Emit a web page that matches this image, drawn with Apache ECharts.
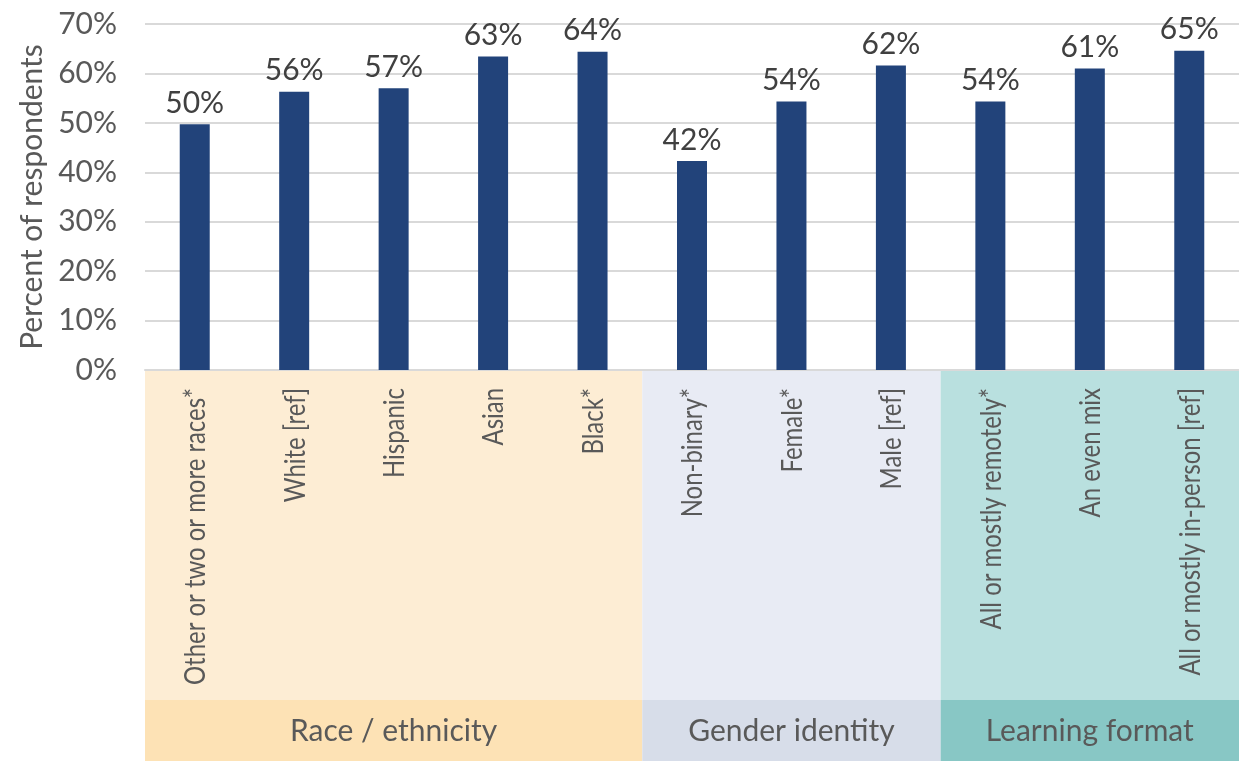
<!DOCTYPE html>
<html>
<head>
<meta charset="utf-8">
<script src="https://cdn.jsdelivr.net/npm/echarts@6/dist/echarts.min.js"></script>
<style>html,body{margin:0;padding:0;background:#fff}#c{width:1239px;height:761px}</style>
</head>
<body>
<div id="c"></div>
<script>
const categories = ['Other or two or more races*', 'White [ref]', 'Hispanic', 'Asian', 'Black*',
  'Non-binary*', 'Female*', 'Male [ref]',
  'All or mostly remotely*', 'An even mix', 'All or mostly in-person [ref]'];
const values = [49.7, 56.3, 57.0, 63.4, 64.4, 42.3, 54.3, 61.6, 54.3, 61.0, 64.6];
const groupNames = ['Race / ethnicity', 'Gender identity', 'Learning format'];
const groupStart = [0, 5, 8];
const groupEnd = [4, 7, 10];
const groupLight = ['#FDEDD4', '#E8EBF4', '#B9E0DF'];
const groupDark = ['#FDE2B5', '#D7DDE9', '#88C7C5'];
const yTicks = [0, 10, 20, 30, 40, 50, 60, 70];

// condensed look for category labels: horizontally squeeze Lato
const CAT_FONT = '29px Lato';
const mctx = document.createElement('canvas').getContext('2d');
mctx.font = CAT_FONT;
const catScale = 297 / mctx.measureText(categories[0]).width;

const chart = echarts.init(document.getElementById('c'));
chart.setOption({
  animation: false,
  grid: {left: 145, right: -6, top: 24, bottom: 391},
  xAxis: {
    type: 'category', data: categories,
    axisLine: {lineStyle: {color: '#D9D9D9', width: 2}},
    axisTick: {show: false},
    axisLabel: {show: false}
  },
  yAxis: {
    type: 'value', min: yTicks[0], max: yTicks[yTicks.length - 1], interval: 10,
    name: 'Percent of respondents', nameLocation: 'middle', nameGap: 98,
    nameTextStyle: {color: '#595959', fontFamily: 'Lato', fontSize: 30},
    axisLine: {show: false}, axisTick: {show: false},
    axisLabel: {formatter: '{value}%', color: '#595959', fontFamily: 'Lato', fontSize: 30, margin: 28},
    splitLine: {lineStyle: {color: '#D9D9D9', width: 2}}
  },
  series: [
    {
      type: 'bar', data: values, barWidth: 30,
      itemStyle: {color: '#22437A'},
      label: {show: true, position: 'top', distance: 6, color: '#404040',
        fontFamily: 'Lato', fontSize: 30,
        formatter: p => Math.round(p.value) + '%'}
    },
    {
      type: 'custom', z: -1, clip: false, silent: true,
      dimensions: [{name: 's', type: 'number'}, {name: 'e', type: 'number'}, {name: 'g', type: 'number'}],
      encode: {x: [0, 1]},
      data: groupNames.map((n, i) => [groupStart[i], groupEnd[i], i]),
      renderItem: function (params, api) {
        const gi = api.value(2);
        const s = api.coord([api.value(0), 0]);
        const e = api.coord([api.value(1), 0]);
        const bw = api.size([1, 0])[0];
        const x0 = s[0] - bw / 2, x1 = e[0] + bw / 2;
        const y0 = s[1] + 1;
        const yMid = y0 + 329;
        return {
          type: 'group',
          children: [
            {type: 'rect', shape: {x: x0, y: y0, width: x1 - x0, height: yMid - y0}, style: {fill: groupLight[gi]}},
            {type: 'rect', shape: {x: x0, y: yMid, width: x1 - x0, height: 80}, style: {fill: groupDark[gi]}},
            {type: 'text', x: (x0 + x1) / 2, y: yMid + 31,
              style: {text: groupNames[gi], fill: '#595959', font: '30px Lato', align: 'center', verticalAlign: 'middle'}}
          ]
        };
      }
    },
    {
      type: 'custom', z: 0, clip: false, silent: true,
      dimensions: [{name: 'i', type: 'number'}],
      encode: {x: 0},
      data: categories.map((c, i) => [i]),
      renderItem: function (params, api) {
        const i = api.value(0);
        const p = api.coord([i, 0]);
        return {
          type: 'text', x: p[0] + 1, y: p[1] + 18, rotation: Math.PI / 2, scaleX: catScale,
          style: {text: categories[i], fill: '#595959', font: CAT_FONT, align: 'right', verticalAlign: 'middle'}
        };
      }
    }
  ]
});
</script>
</body>
</html>
